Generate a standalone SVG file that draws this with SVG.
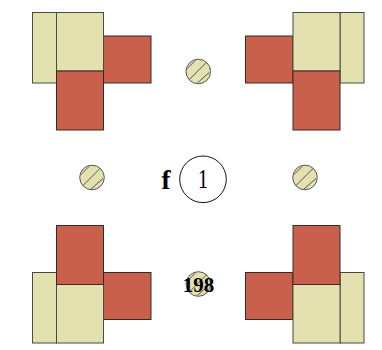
<svg xmlns="http://www.w3.org/2000/svg" width="382" height="350" viewBox="0 0 382 350">
<style>
.y{fill:#e3e1b0;stroke:#4a4a40;stroke-width:1}
.r{fill:#c8604c;stroke:#3a2a24;stroke-width:1}
.c{fill:#e3e1b0;stroke:#555;stroke-width:1}
.h{stroke:#555;stroke-width:1;fill:none}
text{font-family:"Liberation Serif",serif;fill:#000;text-anchor:middle}
</style>
<defs>
<g id="block">
<rect class="y" x="32.5" y="12.5" width="24" height="70.5"/>
<rect class="r" x="103.5" y="36" width="47.5" height="47"/>
<rect class="y" x="56.5" y="12.5" width="47" height="58.5"/>
<rect class="r" x="56.5" y="71" width="47" height="59"/>
</g>
<g id="peg">
<circle class="c" r="12.300"/>
<path class="h" d="M-11 -3L-3 -11M-9 8L8 -9M-1 11.500L11 1"/>
</g>
</defs>
<g id="block-top-left"><use href="#block"/></g>
<g id="block-top-right"><use href="#block" transform="translate(396.500 0) scale(-1 1)"/></g>
<g id="block-bottom-left"><use href="#block" transform="translate(0 355.500) scale(1 -1)"/></g>
<g id="block-bottom-right"><use href="#block" transform="translate(396.500 355.500) scale(-1 -1)"/></g>
<g id="peg-top"><use href="#peg" x="198.300" y="71.500"/></g>
<g id="peg-left"><use href="#peg" x="92" y="177.500"/></g>
<g id="peg-right"><use href="#peg" x="305" y="177.500"/></g>
<g id="peg-bottom"><use href="#peg" x="198.300" y="284"/></g>
<g id="node-1">
<circle cx="203" cy="179.300" r="23.300" fill="#fff" stroke="#111" stroke-width="1"/>
<text x="203" y="187.500" font-size="28" font-family="Liberation Serif" textLength="10" lengthAdjust="spacingAndGlyphs">1</text>
</g>
<text x="166" y="188.500" font-size="27" font-weight="700">f</text>
<text x="198.500" y="291.500" font-size="21" font-weight="700">198</text>
</svg>
